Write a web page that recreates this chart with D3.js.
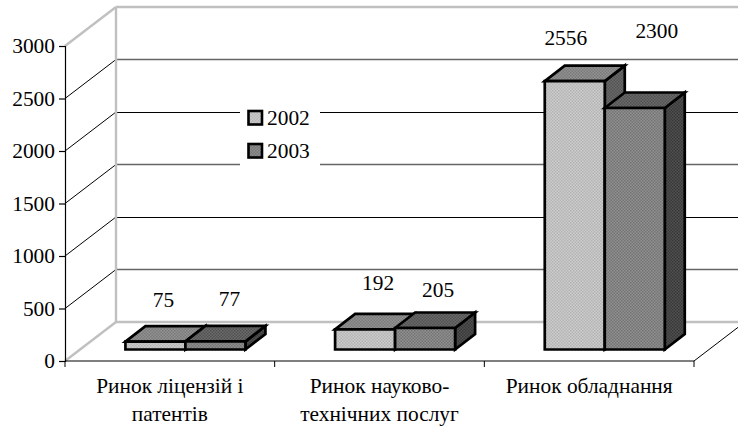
<!DOCTYPE html>
<html><head><meta charset="utf-8">
<script src="https://cdn.jsdelivr.net/npm/d3@7/dist/d3.min.js"></script>
<style>html,body{margin:0;padding:0;background:#fff}svg{display:block}text{font-family:"Liberation Serif",serif;fill:#000}</style>
</head><body><svg id="c" width="738" height="426"></svg>
<script>
const categories = [["Ринок ліцензій і","патентів"],["Ринок науково-","технічних послуг"],["Ринок обладнання"]];
const seriesNames = ["2002","2003"];
const values2002 = [75,192,2556];
const values2003 = [77,205,2300];
const yTicks = [0,500,1000,1500,2000,2500,3000];
// manual data label nudges relative to the bar's top-front-centre (layout only)
const labelNudge2002 = [[8,-35],[13,-39],[-9,-36]];
const labelNudge2003 = [[14,-35],[13,-31],[22,-70]];

const svg = d3.select("#c");
const y = d3.scaleLinear().domain([0,3000]).range([361,46]);
const x = d3.scaleBand().domain(d3.range(categories.length)).range([65,694]);
const DX=51, DY=-39, bdx=20, bdy=-15.5, ox=15.6, oy=-11.5, bw=60, fs=21.4;

const defs = svg.append("defs");
function pat(id,a,b){
  const p=defs.append("pattern").attr("id",id).attr("width",3).attr("height",3).attr("patternUnits","userSpaceOnUse");
  p.append("rect").attr("width",3).attr("height",3).attr("fill",a);
  p.append("rect").attr("width",1.5).attr("height",1.5).attr("fill",b);
  p.append("rect").attr("x",1.5).attr("y",1.5).attr("width",1.5).attr("height",1.5).attr("fill",b);
}
pat("f0","#cccccc","#b4b4b4"); pat("t0","#929292","#7a7a7a"); pat("s0","#6a6a6a","#525252");
pat("f1","#909090","#747474"); pat("t1","#6a6a6a","#525252"); pat("s1","#505050","#383838");

// walls and gridlines
const grid = svg.append("g");
const inner = yTicks.filter(d=>d>0&&d<3000);
const L=x.range()[0],R=x.range()[1];
inner.forEach((d,i)=>{
  grid.append("line").attr("x1",L).attr("y1",y(d)).attr("x2",L+DX).attr("y2",y(d)+DY)
    .attr("stroke","#000").attr("stroke-width",1);
  const even=i%2===0;
  const py=even?y(d)+DY:Math.round(y(d)+DY)+0.5;
  grid.append("line").attr("x1",L+DX).attr("y1",py).attr("x2",R+DX).attr("y2",py)
    .attr("stroke",even?"#666":"#000").attr("stroke-width",even?1.6:1);
});
const wall="#c0c0c0";
[[L,y(0),L+DX,y(0)+DY],[L,y(3000),L+DX,y(3000)+DY],[L+DX,y(0)+DY,L+DX,y(3000)+DY],[L+DX,y(3000)+DY,R+DX,y(3000)+DY],[L+DX,y(0)+DY,R+DX,y(0)+DY]].forEach(s=>{
  grid.append("line").attr("x1",s[0]).attr("y1",s[1]).attr("x2",s[2]).attr("y2",s[3]).attr("stroke",wall).attr("stroke-width",2.4);
});
grid.append("line").attr("x1",R).attr("y1",y(0)).attr("x2",R+DX).attr("y2",y(0)+DY).attr("stroke","#000");

// legend box (hides gridlines)
const lg = svg.append("g");
lg.append("rect").attr("x",240).attr("y",100).attr("width",80).attr("height",70).attr("fill","#fff");
seriesNames.forEach((n,i)=>{
  const t=111+33*i;
  lg.append("rect").attr("x",248.5).attr("y",t).attr("width",13.5).attr("height",13.5).attr("fill",`url(#f${i})`).attr("stroke","#000").attr("stroke-width",2.6);
  lg.append("text").attr("x",267).attr("y",t+14).attr("font-size",fs).text(n);
});

// bars
function bar(g,x0,v,s){
  const top=y(v)+oy, base=y(0)+oy;
  const poly=(pts,fill)=>g.append("polygon").attr("points",pts.join(" ")).attr("fill",fill)
    .attr("stroke","#000").attr("stroke-width",2.7).attr("stroke-linejoin","miter");
  poly([[x0+bw,base],[x0+bw+bdx,base+bdy],[x0+bw+bdx,top+bdy],[x0+bw,top]],`url(#s${s})`);
  poly([[x0,top],[x0+bdx,top+bdy],[x0+bw+bdx,top+bdy],[x0+bw,top]],`url(#t${s})`);
  poly([[x0,top],[x0+bw,top],[x0+bw,base],[x0,base]],`url(#f${s})`);
}
const bars=svg.append("g");
categories.forEach((c,i)=>{
  const cx=x(i)+x.bandwidth()/2+ox;
  bar(bars,cx-bw,values2002[i],0);
  bar(bars,cx,values2003[i],1);
});

// axes
const yAxis=d3.axisLeft(y).tickValues(yTicks).tickSize(6).tickPadding(4).tickFormat(d3.format("d"));
const ya=svg.append("g").attr("transform",`translate(${L},0)`).call(yAxis);
ya.selectAll("text").attr("font-size",fs);
ya.selectAll("path,line").attr("stroke","#000").attr("stroke-width",1.2);
ya.attr("font-family",null).attr("font-size",null);
const xa=svg.append("g").attr("transform",`translate(0,${y(0)})`);
xa.append("line").attr("x1",L).attr("x2",R).attr("stroke","#000").attr("stroke-width",1.2);
d3.range(categories.length+1).forEach(i=>{
  const px=L+i*x.bandwidth();
  xa.append("line").attr("x1",px).attr("x2",px).attr("y1",0).attr("y2",6).attr("stroke","#000");
});
categories.forEach((c,i)=>{
  c.forEach((ln,j)=>{
    xa.append("text").attr("x",x(i)+x.bandwidth()/2).attr("y",32+j*28).attr("text-anchor","middle").attr("font-size",fs).text(ln);
  });
});

// data labels
const dl=svg.append("g");
categories.forEach((c,i)=>{
  const cx=x(i)+x.bandwidth()/2+ox;
  [[values2002,labelNudge2002,cx-bw/2],[values2003,labelNudge2003,cx+bw/2]].forEach(([vals,n,bx])=>{
    dl.append("text").attr("x",bx+n[i][0]).attr("y",y(vals[i])+oy+n[i][1]).attr("text-anchor","middle").attr("font-size",fs).text(vals[i]);
  });
});
</script></body></html>
